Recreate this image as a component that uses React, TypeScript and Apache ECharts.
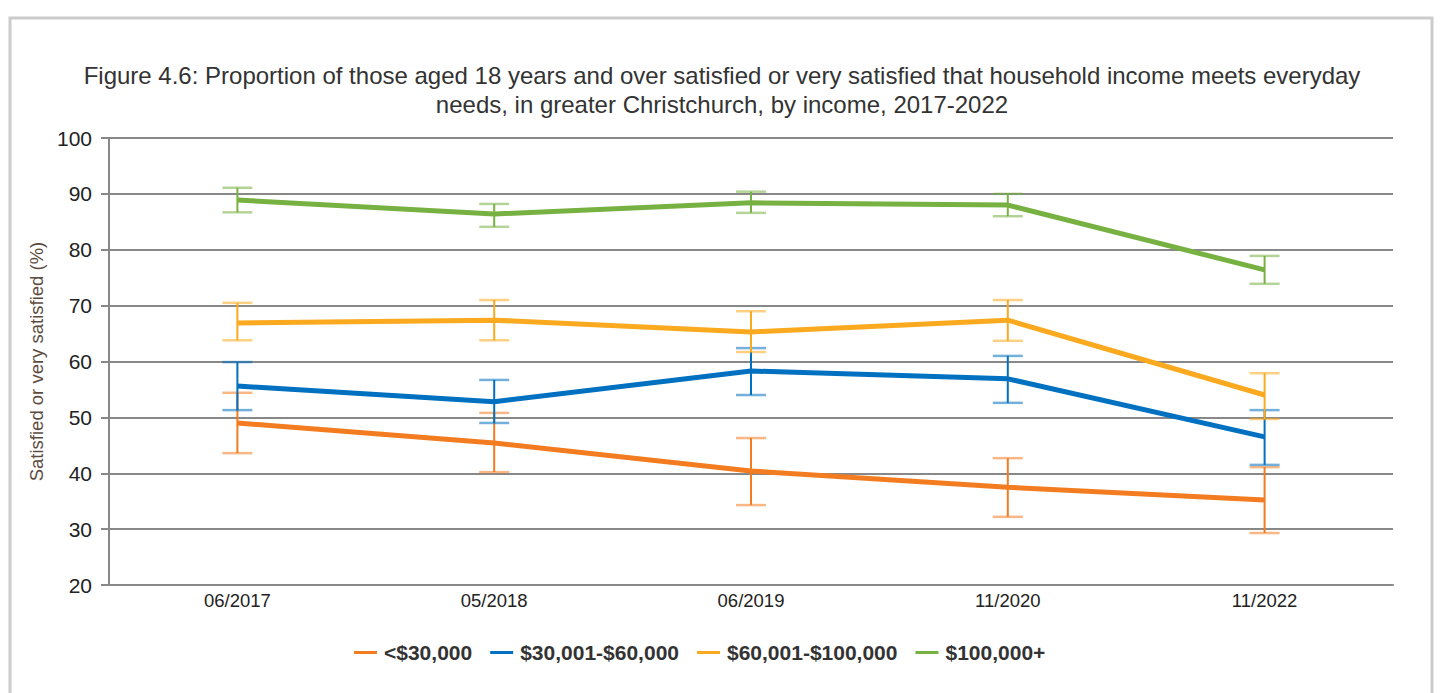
import React, { useEffect, useRef } from "react";
import * as echarts from "echarts";

const categories = ["06/2017", "05/2018", "06/2019", "11/2020", "11/2022"];
const seriesNames = ["<$30,000", "$30,001-$60,000", "$60,001-$100,000", "$100,000+"];
const colors = ["#F47C20", "#0070C0", "#FBA91E", "#77B142"];

const under30 = [49.0, 45.4, 40.4, 37.5, 35.2];
const under30Low = [43.6, 40.2, 34.3, 32.2, 29.3];
const under30High = [54.4, 50.8, 46.3, 42.7, 41.1];

const mid30to60 = [55.6, 52.8, 58.3, 56.9, 46.5];
const mid30to60Low = [51.3, 49.0, 54.0, 52.6, 41.5];
const mid30to60High = [59.9, 56.7, 62.4, 61.0, 51.3];

const mid60to100 = [66.9, 67.4, 65.3, 67.4, 54.0];
const mid60to100Low = [63.8, 63.8, 61.7, 63.7, 49.7];
const mid60to100High = [70.5, 71.0, 69.0, 71.0, 57.9];

const over100 = [88.9, 86.4, 88.4, 88.0, 76.4];
const over100Low = [86.7, 84.1, 86.6, 86.0, 73.9];
const over100High = [91.1, 88.2, 90.4, 90.0, 78.9];

const values = [under30, mid30to60, mid60to100, over100];
const lows = [under30Low, mid30to60Low, mid60to100Low, over100Low];
const highs = [under30High, mid30to60High, mid60to100High, over100High];

export default function App() {
  const ref = useRef<HTMLDivElement>(null);
  useEffect(() => {
    if (!ref.current) return;
    const chart = echarts.init(ref.current, undefined, { renderer: "svg" });
    const font = "'Liberation Sans', Arial, sans-serif";

    const lineSeries = seriesNames.map((name, i) => ({
      name,
      type: "line",
      data: values[i],
      symbol: "none",
      lineStyle: { width: 5, color: colors[i] },
      itemStyle: { color: colors[i] },
      z: 3,
    }));

    const errSeries = seriesNames.map((name, i) => ({
      name: name + " error",
      type: "custom",
      coordinateSystem: "cartesian2d",
      data: categories.map((_, j) => [j, lows[i][j], highs[i][j]]),
      encode: { x: 0, y: [1, 2] },
      z: 4,
      renderItem: (params: any, api: any) => {
        const x = api.value(0);
        const lo = api.coord([x, api.value(1)]);
        const hi = api.coord([x, api.value(2)]);
        const half = 15;
        const c = colors[i];
        return {
          type: "group",
          children: [
            {
              type: "line",
              shape: { x1: lo[0], y1: lo[1], x2: hi[0], y2: hi[1] },
              style: { stroke: c, lineWidth: 2 },
            },
            {
              type: "line",
              shape: { x1: lo[0] - half, y1: lo[1], x2: lo[0] + half, y2: lo[1] },
              style: { stroke: c, lineWidth: 2.5, opacity: 0.55 },
            },
            {
              type: "line",
              shape: { x1: hi[0] - half, y1: hi[1], x2: hi[0] + half, y2: hi[1] },
              style: { stroke: c, lineWidth: 2.5, opacity: 0.55 },
            },
          ],
        };
      },
    }));

    chart.setOption({
      animation: false,
      backgroundColor: "#ffffff",
      textStyle: { fontFamily: font },
      title: {
        text:
          "Figure 4.6: Proportion of those aged 18 years and over satisfied or very satisfied that household income meets everyday\nneeds, in greater Christchurch, by income, 2017-2022",
        left: "center",
        top: 56,
        textStyle: {
          fontFamily: font,
          fontSize: 24,
          fontWeight: "normal",
          color: "#333333",
          lineHeight: 29,
        },
      },
      graphic: [
        {
          type: "rect",
          shape: { x: 10, y: 18, width: 1422, height: 700 },
          style: { fill: "none", stroke: "#cccccc", lineWidth: 3 },
          silent: true,
        },
      ],
      legend: {
        data: seriesNames.map((n, i) => ({ name: n, itemStyle: { color: colors[i] } })),
        bottom: 25,
        left: 349,
        icon: "rect",
        itemWidth: 23,
        itemHeight: 3,
        itemGap: 18,
        textStyle: { fontFamily: font, fontSize: 21, fontWeight: "bold", color: "#333333", padding: [0, 0, 0, 2] },
      },
      grid: { left: 109, right: 51, top: 138, bottom: 108 },
      xAxis: {
        type: "category",
        data: categories,
        boundaryGap: true,
        axisLine: { lineStyle: { color: "#888888", width: 2 } },
        axisTick: { alignWithLabel: true, length: 5, lineStyle: { color: "#888888", width: 2 } },
        axisLabel: { fontSize: 18.5, color: "#222222", margin: 6, fontFamily: font },
        splitLine: { show: false },
      },
      yAxis: {
        type: "value",
        min: 20,
        max: 100,
        interval: 10,
        name: "Satisfied or very satisfied (%)",
        nameLocation: "middle",
        nameGap: 57,
        nameTextStyle: { fontSize: 18.5, color: "#5e4b3f", fontFamily: font },
        axisLine: { show: true, lineStyle: { color: "#888888", width: 2 } },
        axisTick: { show: true, length: 8, lineStyle: { color: "#888888", width: 2 } },
        axisLabel: { fontSize: 21, color: "#222222", margin: 17, fontFamily: font },
        splitLine: { show: true, lineStyle: { color: "#888888", width: 2 } },
      },
      series: [...lineSeries, ...errSeries],
    });
    return () => chart.dispose();
  }, []);
  return (
    <div
      ref={ref}
      style={{ position: "fixed", left: 0, top: 0, width: 1444, height: 693 }}
    />
  );
}
